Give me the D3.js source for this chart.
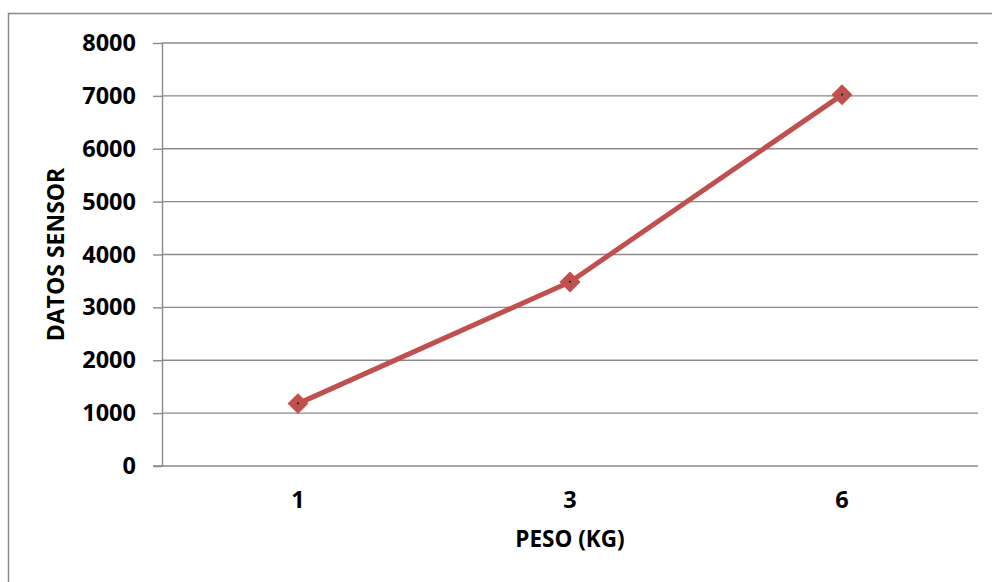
<!DOCTYPE html>
<html>
<head>
<meta charset="utf-8">
<script src="https://cdn.jsdelivr.net/npm/d3@7/dist/d3.min.js"></script>
<style>
  html, body { margin: 0; padding: 0; background: #ffffff; }
  svg { display: block; }
  .lbl { font-family: "Open Sans", "Liberation Sans", sans-serif; font-weight: 700; fill: #000; }
</style>
</head>
<body>
<svg id="chart" width="992" height="582"></svg>
<script>
// Sensor reading against applied weight
const pesos = ["1", "3", "6"];
const datosSensor = [1180, 3480, 7020];
const yTicks = [0, 1000, 2000, 3000, 4000, 5000, 6000, 7000, 8000];
const xTitle = "PESO (KG)";
const yTitle = "DATOS SENSOR";

const svg = d3.select("#chart");
const W = 992, H = 582;
const plot = { left: 162, right: 978, top: 43, bottom: 466 };
const fontSize = 23.5;
const gridColor = "#8a8a8a";
const lineColor = "#c0504d";

// outer chart frame (runs past the right and bottom edges)
svg.append("rect")
  .attr("x", 8.5).attr("y", 13.5)
  .attr("width", W + 20).attr("height", H + 20)
  .attr("fill", "#fff")
  .attr("stroke", gridColor).attr("stroke-width", 1.5);

const x = d3.scaleBand().domain(pesos).range([plot.left, plot.right]);
const y = d3.scaleLinear().domain([0, 8000]).range([plot.bottom, plot.top]);

// horizontal gridlines
svg.append("g").selectAll("line")
  .data(yTicks.filter(v => v > 0))
  .join("line")
  .attr("x1", plot.left).attr("x2", plot.right)
  .attr("y1", d => y(d)).attr("y2", d => y(d))
  .attr("stroke", gridColor).attr("stroke-width", 1.4);

// y axis
const yAxis = svg.append("g")
  .attr("transform", `translate(${plot.left},0)`)
  .call(d3.axisLeft(y).tickValues(yTicks).tickFormat(d3.format("d"))
    .tickSize(9).tickPadding(17).tickSizeOuter(0));
yAxis.select(".domain").attr("stroke", gridColor).attr("stroke-width", 1.4);
yAxis.selectAll(".tick line").attr("stroke", gridColor).attr("stroke-width", 1.4);
yAxis.selectAll(".tick text").attr("class", "lbl")
  .style("font-size", fontSize + "px");

// x axis
const xAxis = svg.append("g")
  .attr("transform", `translate(0,${plot.bottom})`)
  .call(d3.axisBottom(x).tickSize(0).tickPadding(25));
xAxis.select(".domain").attr("d", `M${plot.left - 9},0H${plot.right}`)
  .attr("stroke", gridColor).attr("stroke-width", 1.4);
xAxis.selectAll(".tick text").attr("class", "lbl")
  .style("font-size", fontSize + "px");

// axis titles
svg.append("text").attr("class", "lbl")
  .attr("x", (plot.left + plot.right) / 2).attr("y", 547)
  .attr("text-anchor", "middle")
  .style("font-size", (fontSize - 1) + "px")
  .text(xTitle);

svg.append("text").attr("class", "lbl")
  .attr("transform", `translate(64,${(plot.top + plot.bottom) / 2}) rotate(-90)`)
  .attr("text-anchor", "middle")
  .style("font-size", (fontSize - 0.5) + "px")
  .text(yTitle);

// data line
const pts = pesos.map((p, i) => [x(p) + x.bandwidth() / 2, y(datosSensor[i])]);
svg.append("path")
  .datum(pts)
  .attr("d", d3.line())
  .attr("fill", "none")
  .attr("stroke", lineColor)
  .attr("stroke-width", 5)
  .attr("stroke-linejoin", "round");

// diamond markers
svg.append("g").selectAll("path")
  .data(pts)
  .join("path")
  .attr("d", d3.symbol(d3.symbolSquare, 190)())
  .attr("transform", d => `translate(${d[0]},${d[1]}) rotate(45)`)
  .attr("fill", lineColor)
  .attr("stroke", lineColor).attr("stroke-width", 1);

svg.append("g").selectAll("rect")
  .data(pts)
  .join("rect")
  .attr("x", d => d[0] - 1).attr("y", d => d[1] - 1)
  .attr("width", 2).attr("height", 1.5)
  .attr("fill", "#1a1a1a");
</script>
</body>
</html>
